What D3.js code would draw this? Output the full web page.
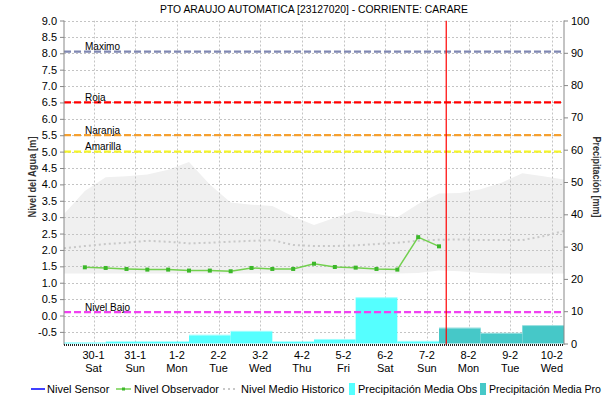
<!DOCTYPE html>
<html>
<head>
<meta charset="utf-8">
<script src="https://cdn.jsdelivr.net/npm/d3@7"></script>
<style>
  html, body { margin: 0; padding: 0; background: #fff; }
  svg { display: block; font-family: "Liberation Sans", Arial, sans-serif; }
</style>
</head>
<body>
<svg id="chart" width="616" height="403"></svg>
<script>
// ---- Data -------------------------------------------------------------
const titleText = "PTO ARAUJO AUTOMATICA [23127020] - CORRIENTE: CARARE";

// Observer readings (m), twice daily
const obsTimes = [
  "2021-01-29T19:00", "2021-01-30T07:00", "2021-01-30T19:00", "2021-01-31T07:00",
  "2021-01-31T19:00", "2021-02-01T07:00", "2021-02-01T19:00", "2021-02-02T07:00",
  "2021-02-02T19:00", "2021-02-03T07:00", "2021-02-03T19:00", "2021-02-04T07:00",
  "2021-02-04T19:00", "2021-02-05T07:00", "2021-02-05T19:00", "2021-02-06T07:00",
  "2021-02-06T19:00", "2021-02-07T07:00"
];
const obsLevels = [1.47, 1.45, 1.42, 1.40, 1.40, 1.37, 1.37, 1.35, 1.45, 1.42, 1.42, 1.58,
                   1.48, 1.46, 1.42, 1.40, 2.39, 2.11];

// Historical envelope and mean (m)
const histTimes = [
  "2021-01-29T07:00", "2021-01-29T19:00", "2021-01-30T07:00", "2021-01-30T19:00",
  "2021-01-31T07:00", "2021-01-31T19:00", "2021-02-01T07:00", "2021-02-01T19:00",
  "2021-02-02T07:00", "2021-02-02T19:00", "2021-02-03T07:00", "2021-02-03T19:00",
  "2021-02-04T07:00", "2021-02-04T19:00", "2021-02-05T07:00", "2021-02-05T19:00",
  "2021-02-06T07:00", "2021-02-06T19:00", "2021-02-07T07:00", "2021-02-07T19:00",
  "2021-02-08T07:00", "2021-02-08T19:00", "2021-02-09T07:00", "2021-02-09T19:00",
  "2021-02-10T07:00"
];
const histMax = [3.10, 3.80, 4.22, 4.25, 4.30, 4.45, 4.68, 4.00, 3.45, 3.38, 3.34, 3.02,
                 2.76, 2.98, 3.20, 3.10, 3.00, 3.40, 3.72, 3.74, 3.85, 4.05, 4.34, 4.25, 4.15];
const histMean = [2.05, 2.12, 2.18, 2.22, 2.28, 2.25, 2.20, 2.22, 2.25, 2.28, 2.30, 2.15,
                  2.12, 2.12, 2.14, 2.18, 2.22, 2.28, 2.31, 2.32, 2.30, 2.30, 2.30, 2.42, 2.58];
const histMin = [1.28, 1.28, 1.28, 1.28, 1.28, 1.28, 1.28, 1.28, 1.28, 1.28, 1.28, 1.28,
                 1.28, 1.28, 1.28, 1.28, 1.28, 1.30, 1.37, 1.35, 1.30, 1.28, 1.28, 1.28, 1.28];

// Daily precipitation (mm), each day runs 07:00 to 07:00
const precipObsDays = ["2021-01-29", "2021-01-30", "2021-01-31", "2021-02-01", "2021-02-02",
                       "2021-02-03", "2021-02-04", "2021-02-05", "2021-02-06"];
const precipObs = [0.3, 0.6, 0.6, 2.7, 3.9, 0.6, 1.4, 14.3, 0.8];
const precipProDays = ["2021-02-07", "2021-02-08", "2021-02-09"];
const precipPro = [4.9, 3.3, 5.7];

// Alert thresholds (m)
const thresholdNames = ["Maximo", "Roja", "Naranja", "Amarilla", "Nivel Bajo"];
const thresholdValues = [8.05, 6.5, 5.5, 5.0, 0.1];
const thresholdColors = ["#7f87b2", "#ff0000", "#f5a030", "#f4f428", "#f040f0"];

const nowTime = "2021-02-07T11:10";
const timeDomain = ["2021-01-29T07:00", "2021-02-10T07:00"];
const dayTicks = ["2021-01-30", "2021-01-31", "2021-02-01", "2021-02-02", "2021-02-03",
                  "2021-02-04", "2021-02-05", "2021-02-06", "2021-02-07", "2021-02-08",
                  "2021-02-09", "2021-02-10"];
const levelTicks = [-0.5, 0.0, 0.5, 1.0, 1.5, 2.0, 2.5, 3.0, 3.5, 4.0, 4.5, 5.0, 5.5,
                    6.0, 6.5, 7.0, 7.5, 8.0, 8.5, 9.0];
const levelDomain = [-0.9, 9.0];
const precipTicks = [0, 10, 20, 30, 40, 50, 60, 70, 80, 90, 100];
const precipDomain = [0, 100];

const legendItems = ["Nivel Sensor", "Nivel Observador", "Nivel Medio Historico",
                     "Precipitación Media Obs", "Precipitación Media Pro"];

// ---- Layout -------------------------------------------------------------
const svg = d3.select("#chart");
const W = 616, H = 403;
const plot = { left: 64, right: 564, top: 20.5, bottom: 345, precipZero: 343.5 };
const parseT = d3.utcParse("%Y-%m-%dT%H:%M");
const parseD = d3.utcParse("%Y-%m-%d");

const x = d3.scaleUtc().domain(timeDomain.map(parseT)).range([plot.left, plot.right]);
const yL = d3.scaleLinear().domain(levelDomain).range([plot.bottom, plot.top]);
const yR = d3.scaleLinear().domain(precipDomain).range([plot.precipZero, plot.top]);

svg.append("rect").attr("width", W).attr("height", H).attr("fill", "#fff");

const defs = svg.append("defs");
defs.append("clipPath").attr("id", "plotClip").append("rect")
  .attr("x", plot.left).attr("y", plot.top)
  .attr("width", plot.right - plot.left).attr("height", plot.bottom - plot.top);

const g = svg.append("g").attr("clip-path", "url(#plotClip)");

// Historical envelope
const hist = histTimes.map((t, i) => ({ t: parseT(t), max: histMax[i], mean: histMean[i], min: histMin[i] }));
g.append("path").datum(hist)
  .attr("fill", "#f0f0f0")
  .attr("d", d3.area().x(d => x(d.t)).y0(d => yL(d.min)).y1(d => yL(d.max)));

// Grid
const gridColor = "#c4c4c4";
g.append("g").selectAll("line").data(levelTicks).join("line")
  .attr("x1", plot.left).attr("x2", plot.right)
  .attr("y1", d => Math.round(yL(d)) + 0.5).attr("y2", d => Math.round(yL(d)) + 0.5)
  .attr("stroke", gridColor).attr("stroke-dasharray", "2,2");
g.append("g").selectAll("line").data(dayTicks.map(parseD)).join("line")
  .attr("x1", d => Math.round(x(d)) + 0.5).attr("x2", d => Math.round(x(d)) + 0.5)
  .attr("y1", plot.top).attr("y2", plot.bottom)
  .attr("stroke", gridColor).attr("stroke-dasharray", "2,2");

// Historical mean (dotted)
g.append("path").datum(hist)
  .attr("fill", "none").attr("stroke", "#c8c8c8").attr("stroke-width", 2)
  .attr("stroke-dasharray", "2,3")
  .attr("d", d3.line().x(d => x(d.t)).y(d => yL(d.mean)));

// Precipitation bars
function drawBars(days, values, color) {
  const data = days.map((d, i) => {
    const start = d3.utcHour.offset(parseD(d), 7);
    return { x0: start, x1: d3.utcDay.offset(start, 1), v: values[i] };
  });
  const bg = g.append("g");
  bg.selectAll("rect").data(data).join("rect")
    .attr("x", d => x(d.x0)).attr("width", d => x(d.x1) - x(d.x0))
    .attr("y", d => yR(d.v)).attr("height", d => yR(0) - yR(d.v))
    .attr("fill", color);
  bg.selectAll("line").data(data.filter(d => d.v >= 0.75)).join("line")
    .attr("x1", d => x(d.x0)).attr("x2", d => x(d.x1))
    .attr("y1", d => yR(d.v) + 0.5).attr("y2", d => yR(d.v) + 0.5)
    .attr("stroke", "#ffffff").attr("stroke-opacity", 0.45);
}
drawBars(precipObsDays, precipObs, "#55ffff");
drawBars(precipProDays, precipPro, "#46c8c8");

// Threshold lines and labels
thresholdValues.forEach((v, i) => {
  g.append("line")
    .attr("x1", plot.left).attr("x2", plot.right)
    .attr("y1", yL(v)).attr("y2", yL(v))
    .attr("stroke", thresholdColors[i]).attr("stroke-width", 2.2)
    .attr("stroke-dasharray", "7,3");
  svg.append("text")
    .attr("x", 85).attr("y", yL(v) - 1.5)
    .attr("font-size", 10).attr("fill", "#000")
    .text(thresholdNames[i]);
});

// Observer level line
const obs = obsTimes.map((t, i) => ({ t: parseT(t), v: obsLevels[i] }));
g.append("path").datum(obs)
  .attr("fill", "none").attr("stroke", "#72d04e").attr("stroke-width", 1.5)
  .attr("d", d3.line().x(d => x(d.t)).y(d => yL(d.v)));
g.append("g").selectAll("rect").data(obs).join("rect")
  .attr("x", d => x(d.t) - 2).attr("y", d => yL(d.v) - 2)
  .attr("width", 4).attr("height", 4).attr("fill", "#3cb82a");

// Current time marker
g.append("line")
  .attr("x1", x(parseT(nowTime))).attr("x2", x(parseT(nowTime)))
  .attr("y1", plot.top).attr("y2", plot.bottom)
  .attr("stroke", "#ff0000").attr("stroke-width", 1.2);

// ---- Axes -------------------------------------------------------------
const axisColor = "#888";
const fmtLevel = v => v.toFixed(1);

const axL = svg.append("g").attr("transform", `translate(${plot.left},0)`)
  .call(d3.axisLeft(yL).tickValues(levelTicks).tickFormat(fmtLevel).tickSize(4).tickPadding(3));
const axR = svg.append("g").attr("transform", `translate(${plot.right},0)`)
  .call(d3.axisRight(yR).tickValues(precipTicks).tickFormat(d3.format("d")).tickSize(4).tickPadding(3));
[axL, axR].forEach(a => {
  a.select(".domain").attr("stroke", axisColor).attr("d", `M0,${plot.top}V${plot.bottom}`);
  a.selectAll(".tick line").attr("stroke", axisColor);
  a.selectAll(".tick text").attr("fill", "#000").attr("font-size", 11)
    .attr("font-family", "Liberation Sans, Arial, sans-serif");
});

// Bottom axis: dotted baseline and two-line day labels
svg.append("line")
  .attr("x1", plot.left).attr("x2", plot.right)
  .attr("y1", plot.bottom).attr("y2", plot.bottom)
  .attr("stroke", "#222").attr("stroke-width", 2).attr("stroke-dasharray", "1,1");
const fmtDay = d3.utcFormat("%-d-%-m");
const fmtWeek = d3.utcFormat("%a");
const xl = svg.append("g").selectAll("g").data(dayTicks.map(parseD)).join("g")
  .attr("transform", d => `translate(${x(d)},0)`);
xl.append("text").attr("y", 358.5).attr("text-anchor", "middle")
  .attr("font-size", 11).text(d => fmtDay(d));
xl.append("text").attr("y", 371.5).attr("text-anchor", "middle")
  .attr("font-size", 11).text(d => fmtWeek(d));

// Title and axis titles
svg.append("text").attr("x", 314).attr("y", 13).attr("text-anchor", "middle")
  .attr("font-size", 11.5).attr("textLength", 308).attr("lengthAdjust", "spacingAndGlyphs")
  .text(titleText);
svg.append("text").attr("transform", "translate(36,177) rotate(-90)")
  .attr("text-anchor", "middle").attr("font-size", 10).attr("font-weight", "bold")
  .attr("textLength", 81).attr("lengthAdjust", "spacingAndGlyphs")
  .attr("fill", "#333").text("Nivel del Agua [m]");
svg.append("text").attr("transform", "translate(592.5,177) rotate(90)")
  .attr("text-anchor", "middle").attr("font-size", 10).attr("font-weight", "bold")
  .attr("textLength", 81).attr("lengthAdjust", "spacingAndGlyphs")
  .attr("fill", "#333").text("Precipitación [mm]");

// ---- Legend -------------------------------------------------------------
const ly = 389, lty = 393;
const leg = svg.append("g").attr("font-size", 11);
leg.append("line").attr("x1", 31).attr("x2", 45).attr("y1", ly).attr("y2", ly)
  .attr("stroke", "#0000ff").attr("stroke-width", 1.5);
leg.append("text").attr("x", 47).attr("y", lty).text(legendItems[0]);
leg.append("line").attr("x1", 116).attr("x2", 131).attr("y1", ly).attr("y2", ly)
  .attr("stroke", "#72d04e").attr("stroke-width", 1.5);
leg.append("rect").attr("x", 122).attr("y", ly - 1.5).attr("width", 3).attr("height", 3)
  .attr("fill", "#3cb82a");
leg.append("text").attr("x", 134).attr("y", lty).text(legendItems[1]);
leg.append("line").attr("x1", 223).attr("x2", 238).attr("y1", ly).attr("y2", ly)
  .attr("stroke", "#c8c8c8").attr("stroke-width", 2).attr("stroke-dasharray", "2,3");
leg.append("text").attr("x", 241).attr("y", lty).text(legendItems[2]);
leg.append("rect").attr("x", 349).attr("y", ly - 6).attr("width", 6).attr("height", 12)
  .attr("fill", "#55ffff");
leg.append("text").attr("x", 358).attr("y", lty).text(legendItems[3]);
leg.append("rect").attr("x", 480).attr("y", ly - 6).attr("width", 6).attr("height", 12)
  .attr("fill", "#46c8c8");
leg.append("text").attr("x", 489).attr("y", lty).attr("textLength", 112)
  .attr("lengthAdjust", "spacingAndGlyphs").text(legendItems[4]);
</script>
</body>
</html>
